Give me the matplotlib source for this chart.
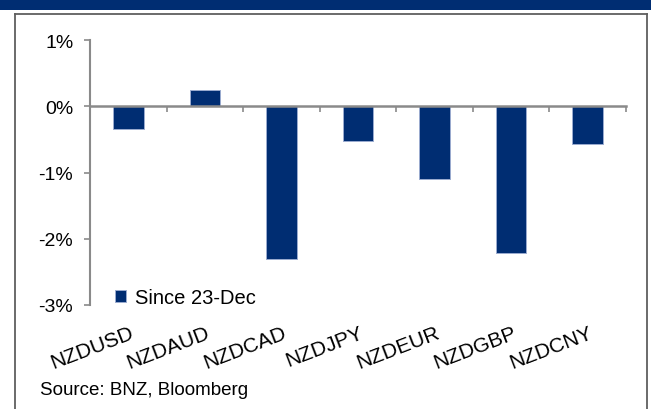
import matplotlib
matplotlib.use("Agg")
import matplotlib.pyplot as plt
from matplotlib.patches import Rectangle
from matplotlib.lines import Line2D
from matplotlib.transforms import blended_transform_factory
import numpy as np

plt.rcParams['font.family'] = ['Liberation Sans', 'DejaVu Sans']

categories = ["NZDUSD", "NZDAUD", "NZDCAD", "NZDJPY", "NZDEUR", "NZDGBP", "NZDCNY"]
values = [-0.34, 0.25, -2.30, -0.53, -1.10, -2.22, -0.57]
series_name = "Since 23-Dec"
yticks = [-3, -2, -1, 0, 1]
ytick_labels = ["-3%", "-2%", "-1%", "0%", "1%"]
source = "Source: BNZ, Bloomberg"

W, H = 651, 410
fig = plt.figure(figsize=(W / 100, H / 100), dpi=100)
fig.patch.set_facecolor('white')

# top dark band
fig.patches.append(Rectangle((0, 1 - 11 / H), 1, 11 / H, transform=fig.transFigure,
                             facecolor='#002D72', edgecolor='none', zorder=0))
# frame
fx0, fx1, fy = 14.5 / W, 647 / W, 1 - 14.5 / H
frame_col = '#5f5f5f'
fig.add_artist(Line2D([fx0, fx0], [0, fy], transform=fig.transFigure, color=frame_col, lw=1.3))
fig.add_artist(Line2D([fx1, fx1], [0, fy], transform=fig.transFigure, color=frame_col, lw=1.3))
fig.add_artist(Line2D([fx0, fx1], [fy, fy], transform=fig.transFigure, color=frame_col, lw=1.3))

left, right = 90 / W, 626 / W
top, bottom = 1 - 41 / H, 1 - 306 / H
ax = fig.add_axes([left, bottom, right - left, top - bottom])
ax.set_facecolor('none')

x = np.arange(len(categories))
bar_color = '#002D72'
bars = ax.bar(x, values, width=0.40, color=bar_color, edgecolor='#9aabcf', linewidth=0.7,
              label=series_name, zorder=2)

ax.set_xlim(-0.5, len(categories) - 0.5)
ax.set_ylim(-3, 1)

axis_col = '#8a8a8a'
for s in ['top', 'right']:
    ax.spines[s].set_visible(False)
ax.spines['left'].set_color(axis_col)
ax.spines['left'].set_linewidth(1.5)
ax.spines['bottom'].set_position(('data', 0))
ax.spines['bottom'].set_color(axis_col)
ax.spines['bottom'].set_linewidth(1.8)
ax.spines['bottom'].set_zorder(3)

ax.set_yticks(yticks)
ax.set_yticklabels(ytick_labels)
ax.tick_params(axis='y', direction='out', length=4, width=1.2, color=axis_col,
               labelsize=14, pad=8)
ax.set_xticks(np.arange(-0.5, len(categories)))
ax.set_xticklabels([])
ax.tick_params(axis='x', direction='out', length=4.5, width=1.2, color=axis_col)

trans = blended_transform_factory(ax.transData, ax.transAxes)
for i, lab in enumerate(categories):
    ax.text(i + 0.01, -0.068, lab, transform=trans, rotation=21, rotation_mode='anchor',
            ha='right', va='top', fontsize=15, color='black')

leg = ax.legend(loc='center left', bbox_to_anchor=(0.0475, 0.028), frameon=False,
                fontsize=14.5, handlelength=0.5, handleheight=0.5, handletextpad=0.45,
                borderpad=0, borderaxespad=0)

fig.text(40 / W, 1 - 391 / H, source, fontsize=13.5, ha='left', va='center', color='black')

fig.savefig('out.png', dpi=100)
